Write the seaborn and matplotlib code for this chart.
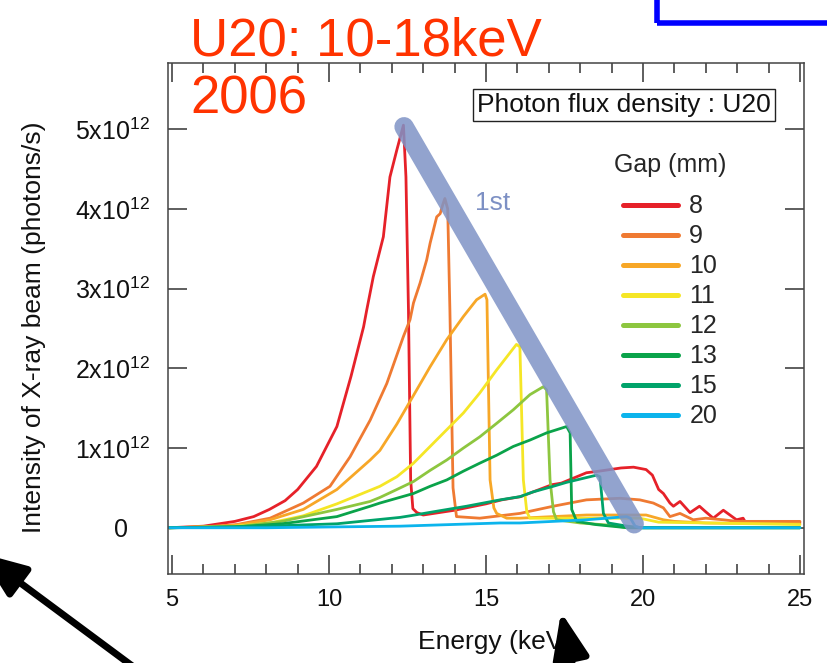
import numpy as np
import pandas as pd
import seaborn as sns
import matplotlib
matplotlib.use("Agg")
import matplotlib.pyplot as plt
from matplotlib.patches import Rectangle
from matplotlib.ticker import MultipleLocator, NullLocator
from matplotlib.transforms import ScaledTranslation

# ---- data (flux in units of 1e12 photons/s) ----
gaps = ["8", "9", "10", "11", "12", "13", "15", "20"]
gap_colors = ["#e62129", "#ef7a32", "#f7a727", "#f5e626",
              "#8dc63f", "#0aa34a", "#00a36a", "#0cb4ec"]

energy_8 = [4.9, 6.0, 7.0, 7.6, 8.1, 8.6, 9.0, 9.6, 10.25, 10.7, 11.1, 11.2, 11.41,
            11.73, 11.94, 12.16, 12.37, 12.45, 12.53, 12.6, 12.67, 12.8, 13.0, 14.0,
            15.0, 15.5, 16.1, 17.1, 17.4, 18.2, 18.6, 19.3, 19.7, 20.1, 20.3, 20.5,
            20.65, 20.86, 20.97, 21.18, 21.5, 21.8, 22.0, 22.24, 22.56, 22.98, 23.19,
            23.25, 23.3, 24.0, 25.0]
flux_8 = [0.0, 0.02, 0.08, 0.14, 0.23, 0.34, 0.48, 0.77, 1.27, 1.90, 2.52, 2.73, 3.15,
          3.65, 4.40, 4.74, 5.05, 4.40, 2.73, 0.60, 0.24, 0.19, 0.16, 0.22,
          0.30, 0.35, 0.39, 0.54, 0.56, 0.69, 0.71, 0.75, 0.76, 0.73, 0.66, 0.48,
          0.43, 0.31, 0.27, 0.33, 0.19, 0.27, 0.20, 0.12, 0.22, 0.10, 0.12,
          0.08, 0.08, 0.08, 0.07]

energy_9 = [4.9, 6.0, 7.06, 8.12, 9.18, 10.03, 10.67, 11.31, 11.84, 12.37, 12.58, 12.69,
            12.9, 13.11, 13.22, 13.43, 13.54, 13.62, 13.69, 13.78, 13.85, 13.95, 14.06,
            14.8, 16.08, 17.14, 18.2, 19.27, 19.9, 20.33, 20.65, 20.86, 21.18, 21.6,
            22.0, 22.56, 23.0, 24.0, 25.0]
flux_9 = [0.0, 0.01, 0.04, 0.12, 0.31, 0.52, 0.89, 1.35, 1.81, 2.40, 2.61, 2.82,
          3.07, 3.36, 3.57, 3.90, 3.94, 4.05, 4.13, 4.00, 2.73, 0.50, 0.14,
          0.12, 0.18, 0.27, 0.35, 0.37, 0.35, 0.31, 0.25, 0.14, 0.18, 0.10,
          0.12, 0.10, 0.08, 0.08, 0.08]

energy_10 = [4.9, 6.0, 7.0, 8.12, 9.18, 10.25, 11.31, 11.62, 12.16, 12.69, 13.22, 13.75,
             14.28, 14.7, 14.97, 15.03, 15.13, 15.25, 15.34, 15.66, 16.08, 18.2, 20.1,
             20.65, 21.0, 22.0, 25.0]
flux_10 = [0.0, 0.01, 0.03, 0.10, 0.23, 0.48, 0.85, 0.97, 1.30, 1.66, 2.02, 2.36,
           2.65, 2.86, 2.93, 2.86, 0.60, 0.25, 0.18, 0.12, 0.12, 0.16, 0.16,
           0.10, 0.08, 0.06, 0.05]

energy_11 = [4.9, 7.0, 8.12, 9.18, 10.25, 11.31, 11.62, 12.16, 12.69, 13.22, 13.75, 14.28,
             14.8, 15.34, 15.97, 16.08, 16.19, 16.3, 16.4, 18.2, 19.9, 20.5, 25.0]
flux_11 = [0.0, 0.02, 0.06, 0.15, 0.30, 0.47, 0.52, 0.64, 0.81, 1.02, 1.23, 1.44,
           1.69, 1.98, 2.30, 2.27, 0.60, 0.20, 0.12, 0.12, 0.12, 0.07, 0.04]

energy_12 = [4.9, 7.0, 8.5, 10.25, 11.31, 11.62, 12.16, 12.69, 13.22, 13.75, 14.28, 14.8,
             15.34, 15.87, 16.4, 16.83, 16.93, 17.04, 17.15, 17.25, 18.0, 19.0, 19.5, 25.0]
flux_12 = [0.0, 0.01, 0.08, 0.23, 0.33, 0.38, 0.48, 0.58, 0.72, 0.85, 1.00, 1.14,
           1.31, 1.48, 1.67, 1.77, 1.73, 0.60, 0.20, 0.10, 0.06, 0.03, 0.0, 0.0]

energy_13 = [4.9, 7.0, 8.5, 10.25, 11.31, 11.62, 12.69, 13.22, 13.75, 14.28, 14.8, 15.34,
             15.87, 16.4, 16.93, 17.57, 17.68, 17.73, 17.89, 18.5, 19.5, 25.0]
flux_13 = [0.0, 0.01, 0.05, 0.14, 0.27, 0.31, 0.43, 0.52, 0.60, 0.71, 0.81, 0.91,
           1.02, 1.10, 1.19, 1.27, 1.19, 0.23, 0.08, 0.04, 0.0, 0.0]

energy_15 = [4.9, 8.0, 10.25, 12.26, 12.58, 13.32, 14.38, 15.45, 16.08, 16.5, 17.14,
             17.57, 18.52, 18.63, 18.74, 18.9, 19.5, 20.0, 25.0]
flux_15 = [0.0, 0.02, 0.05, 0.13, 0.15, 0.20, 0.27, 0.35, 0.39, 0.45, 0.52,
           0.57, 0.66, 0.64, 0.18, 0.06, 0.02, 0.0, 0.0]

energy_20 = [4.9, 8.0, 10.0, 12.26, 15.45, 16.08, 18.2, 19.48, 19.6, 19.75, 19.9, 25.0]
flux_20 = [0.0, 0.0, 0.01, 0.02, 0.06, 0.06, 0.10, 0.14, 0.12, 0.02, 0.0, 0.0]

# envelope of the first-harmonic peaks
first_energy = [12.39, 19.72]
first_flux = [5.03, 0.05]

x_ticks = [5, 10, 15, 20, 25]
y_ticks = [0, 1, 2, 3, 4, 5]
y_tick_labels = ["0", "1x10$^{12}$", "2x10$^{12}$", "3x10$^{12}$",
                 "4x10$^{12}$", "5x10$^{12}$"]

energies = [energy_8, energy_9, energy_10, energy_11, energy_12, energy_13, energy_15, energy_20]
fluxes = [flux_8, flux_9, flux_10, flux_11, flux_12, flux_13, flux_15, flux_20]

df = pd.concat(
    [pd.DataFrame({"Energy": e, "Flux": f, "Gap": g}) for g, e, f in zip(gaps, energies, fluxes)],
    ignore_index=True,
)

# ---- style ----
sns.set_theme(style="ticks")
plt.rcParams["font.family"] = ["Liberation Sans", "DejaVu Sans"]
plt.rcParams["mathtext.fontset"] = "custom"
plt.rcParams["mathtext.rm"] = "Liberation Sans"
plt.rcParams["mathtext.default"] = "regular"

W, H = 827, 663
fig = plt.figure(figsize=(W / 100, H / 100), dpi=100)
ax = fig.add_axes([168 / W, 89 / H, 636 / W, 511 / H])

sns.lineplot(data=df, x="Energy", y="Flux", hue="Gap", hue_order=gaps,
             palette=dict(zip(gaps, gap_colors)), sort=False, estimator=None,
             linewidth=2.0, ax=ax)

ax.plot(first_energy, first_flux, color="#7f93c6", lw=14, alpha=0.85,
        solid_capstyle="round", zorder=3)
ax.text(14.65, 4.07, "1st", color="#7d90c4", fontsize=19, va="center", ha="left")

# axes
ax.set_xlim(4.87, 25.13)
ax.set_ylim(-0.58, 5.83)
ax.set_xticks(x_ticks)
ax.xaxis.set_minor_locator(MultipleLocator(1))
ax.yaxis.set_minor_locator(NullLocator())
ax.set_yticks(y_ticks)
ax.set_yticklabels(y_tick_labels)
ax.tick_params(which="both", direction="in", top=True, right=True,
               color="#333333", width=1.1)
ax.tick_params(which="major", length=14)
ax.tick_params(which="minor", length=7)
ax.tick_params(axis="x", labelsize=17, pad=11, labelcolor="#111111")
ax.tick_params(axis="y", labelsize=18, pad=13, labelcolor="#111111")
for s in ax.spines.values():
    s.set_color("#444444")
    s.set_linewidth(1.1)

# the plain zero sits under the mantissa column
zero_lbl = ax.get_yticklabels()[0]
zero_lbl.set_transform(zero_lbl.get_transform() + ScaledTranslation(-22 / 100, 0, fig.dpi_scale_trans))

ax.set_xlabel("Energy (keV)", fontsize=19, color="#111111")
ax.set_ylabel("Intensity of X-ray beam (photons/s)", fontsize=19, color="#111111")
ax.xaxis.set_label_coords((495 - 168) / 636, (574 - 630) / 511)
ax.yaxis.set_label_coords((46 - 168) / 636, (574 - 327) / 511)

# legend
handles, labels = ax.get_legend_handles_labels()
leg = ax.legend(handles, labels, title="Gap (mm)", loc="upper left",
                bbox_to_anchor=(614 / W, 1 - 153 / H), bbox_transform=fig.transFigure,
                frameon=False, fontsize=18, title_fontsize=18, handlelength=2.2,
                handletextpad=0.45, labelspacing=0.24, borderpad=0, borderaxespad=0)
leg._legend_box.sep = 12.5
for ln in leg.get_lines():
    ln.set_linewidth(3.6)

# boxed caption
fig.text(477 / W, 1 - 105 / H, "Photon flux density : U20", fontsize=19, va="center",
         ha="left", color="#111111",
         bbox=dict(boxstyle="square,pad=0.15", facecolor="white", edgecolor="#222222", linewidth=1.0))

# headline annotations
fig.text(190 / W, 1 - 55 / H, "U20: 10-18keV", color="#ff3300", fontsize=38, va="baseline")
fig.text(190 / W, 1 - 113 / H, "2006", color="#ff3300", fontsize=38, va="baseline")

fig.add_artist(Rectangle((657 / W, 1 - 23 / H), 0.5, 0.3, transform=fig.transFigure,
                         fill=False, edgecolor="#0000ff", linewidth=4, clip_on=False))

arrow_kw = dict(arrowstyle="-|>,head_length=1.4,head_width=0.55", color="black", lw=5,
                mutation_scale=20, shrinkA=0, shrinkB=0)
ax.annotate("", xy=(-20, 110), xytext=(135, -5), xycoords="figure pixels",
            textcoords="figure pixels", arrowprops=arrow_kw, annotation_clip=False)
ax.annotate("", xy=(561, 51), xytext=(573, -5), xycoords="figure pixels",
            textcoords="figure pixels", arrowprops=arrow_kw, annotation_clip=False)

fig.savefig("out.png", dpi=100)
